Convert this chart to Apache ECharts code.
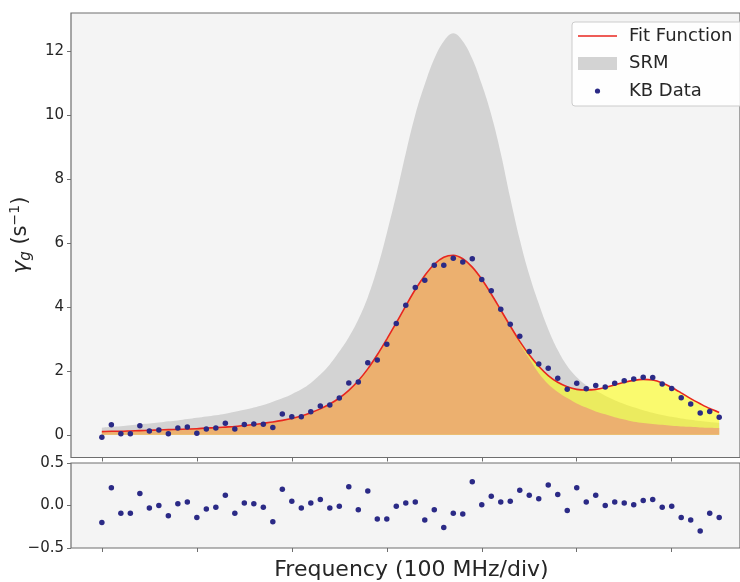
<!DOCTYPE html>
<html>
<head>
<meta charset="utf-8">
<script src="https://cdn.jsdelivr.net/npm/echarts@6/dist/echarts.min.js"></script>
<style>
  html, body { margin: 0; padding: 0; background: #ffffff; }
  #main { width: 740px; height: 582px; }
</style>
</head>
<body>
<div id="main"></div>
<script>
// frequency index (one point per 10 MHz, ticks every 100 MHz)
const freqIdx = [
  0, 1, 2, 3, 4, 5, 6, 7, 8, 9, 10, 11, 12, 13, 14, 15, 16, 17, 18, 19,
  20, 21, 22, 23, 24, 25, 26, 27, 28, 29, 30, 31, 32, 33, 34, 35, 36, 37, 38, 39,
  40, 41, 42, 43, 44, 45, 46, 47, 48, 49, 50, 51, 52, 53, 54, 55, 56, 57, 58, 59,
  60, 61, 62, 63, 64, 65
];

const kbData = [
  -0.08, 0.31, 0.03, 0.03, 0.28, 0.12, 0.15, 0.03, 0.21, 0.24,
  0.05, 0.18, 0.21, 0.36, 0.18, 0.32, 0.34, 0.33, 0.23, 0.65,
  0.56, 0.56, 0.72, 0.90, 0.93, 1.15, 1.62, 1.65, 2.25, 2.34,
  2.83, 3.48, 4.05, 4.60, 4.83, 5.30, 5.30, 5.52, 5.40, 5.50,
  4.85, 4.50, 3.92, 3.45, 3.08, 2.60, 2.21, 2.08, 1.77, 1.42,
  1.61, 1.44, 1.54, 1.49, 1.61, 1.69, 1.74, 1.80, 1.79, 1.59,
  1.45, 1.16, 0.96, 0.68, 0.73, 0.55
];

const residuals = [
  -0.20, 0.21, -0.09, -0.09, 0.14, -0.03, 0.00, -0.12, 0.02, 0.04,
  -0.14, -0.04, -0.02, 0.12, -0.09, 0.03, 0.02, -0.02, -0.19, 0.19,
  0.05, -0.03, 0.03, 0.07, -0.03, -0.01, 0.22, -0.05, 0.17, -0.16,
  -0.16, -0.01, 0.03, 0.04, -0.17, -0.05, -0.26, -0.09, -0.10, 0.28,
  0.01, 0.11, 0.04, 0.05, 0.18, 0.12, 0.08, 0.24, 0.13, -0.06,
  0.21, 0.04, 0.12, 0.00, 0.04, 0.03, 0.01, 0.06, 0.07, -0.02,
  -0.01, -0.14, -0.17, -0.30, -0.09, -0.14
];

const fitCurve = [
  0.10, 0.11, 0.11, 0.12, 0.13, 0.14, 0.15, 0.16, 0.17, 0.18,
  0.19, 0.21, 0.22, 0.24, 0.26, 0.29, 0.32, 0.36, 0.40, 0.45,
  0.51, 0.59, 0.69, 0.81, 0.96, 1.15, 1.39, 1.69, 2.06, 2.50,
  2.99, 3.50, 4.03, 4.54, 4.98, 5.33, 5.55, 5.61, 5.50, 5.24,
  4.86, 4.40, 3.90, 3.40, 2.92, 2.50, 2.14, 1.85, 1.64, 1.50,
  1.42, 1.40, 1.42, 1.48, 1.56, 1.64, 1.70, 1.73, 1.71, 1.62,
  1.48, 1.31, 1.13, 0.97, 0.82, 0.70
];

// main resonance component of the fit (orange)
const mainPeak = [
  0.10, 0.11, 0.11, 0.12, 0.13, 0.14, 0.15, 0.16, 0.17, 0.18,
  0.19, 0.21, 0.22, 0.24, 0.26, 0.29, 0.32, 0.36, 0.40, 0.45,
  0.51, 0.59, 0.69, 0.81, 0.96, 1.15, 1.39, 1.69, 2.06, 2.50,
  2.99, 3.50, 4.03, 4.54, 4.98, 5.33, 5.55, 5.61, 5.50, 5.24,
  4.86, 4.40, 3.90, 3.40, 2.85, 2.38, 1.92, 1.58, 1.34, 1.15,
  0.98, 0.85, 0.73, 0.64, 0.55, 0.48, 0.41, 0.37, 0.34, 0.31,
  0.28, 0.26, 0.25, 0.23, 0.22, 0.21
];

const srmCurve = [
  0.22, 0.25, 0.27, 0.30, 0.33, 0.35, 0.38, 0.42, 0.45, 0.49,
  0.53, 0.57, 0.61, 0.66, 0.72, 0.78, 0.85, 0.93, 1.03, 1.14,
  1.27, 1.42, 1.62, 1.88, 2.20, 2.60, 3.05, 3.60, 4.30, 5.20,
  6.30, 7.50, 8.80, 10.00, 10.95, 11.75, 12.30, 12.55, 12.30, 11.75,
  10.95, 10.00, 8.80, 7.40, 6.10, 5.00, 4.10, 3.30, 2.65, 2.15,
  1.80, 1.55, 1.38, 1.22, 1.08, 0.96, 0.86, 0.77, 0.69, 0.62,
  0.56, 0.51, 0.47, 0.43, 0.40, 0.37
];

const xTicks = [0, 10, 20, 30, 40, 50, 60];
const yTicks = [0, 2, 4, 6, 8, 10, 12];

function pairs(ys) {
  return freqIdx.map((x, i) => [x, ys[i]]);
}

const FONT = "DejaVu Sans";
const TXT = "#262626";
const FRAME = "#6e6e6e";

let myEchart = echarts.init(document.getElementById("main"));
let option = {
  animation: false,
  backgroundColor: "#ffffff",
  textStyle: { fontFamily: FONT },
  // in the original the plot is cut at the right edge of the picture
  grid: [
    { left: 71, right: 0, top: 13, height: 444.5, show: true,
      backgroundColor: "#f4f4f4", borderColor: FRAME, borderWidth: 1.2 },
    { left: 71, right: 0, top: 463, height: 85, show: true,
      backgroundColor: "#f4f4f4", borderColor: FRAME, borderWidth: 1.2 },
  ],
  legend: {
    left: 572,
    top: 22,
    orient: "vertical",
    padding: [5, 20, 6, 6],
    itemWidth: 46,
    itemHeight: 16,
    itemGap: 9.5,
    backgroundColor: "rgba(255,255,255,0.85)",
    borderColor: "#cccccc",
    borderWidth: 1,
    borderRadius: 3,
    textStyle: { fontFamily: FONT, fontSize: 18, color: TXT, lineHeight: 16 },
    itemStyle: { borderWidth: 0 },
    data: [
      { name: "Fit Function", icon: "path://M0,0 M46,16 M0,7.3 L39,7.3 L39,8.7 L0,8.7 Z",
        itemStyle: { color: "#e8261f", borderWidth: 0 } },
      { name: "SRM", icon: "path://M0,0 M46,16 M0,1.5 L39,1.5 L39,14.5 L0,14.5 Z",
        itemStyle: { color: "#d3d3d3", borderWidth: 0 } },
      { name: "KB Data", icon: "path://M0,0 M46,16 M22.1,8 A2.6,2.6,0,1,1,16.9,8 A2.6,2.6,0,1,1,22.1,8 Z",
        itemStyle: { color: "#2b2a86", borderWidth: 0 } },
    ],
  },
  xAxis: [
    {
      type: "value", gridIndex: 0, min: -3.25, max: 67.19,
      axisLine: { show: false, onZero: false },
      axisTick: { show: true, inside: false, length: 4, customValues: xTicks,
        lineStyle: { color: FRAME } },
      axisLabel: { show: false },
      splitLine: { show: false },
    },
    {
      type: "value", gridIndex: 1, min: -3.25, max: 67.19,
      axisLine: { show: false, onZero: false },
      axisTick: { show: true, inside: false, length: 4, customValues: xTicks,
        lineStyle: { color: FRAME } },
      axisLabel: { show: false },
      splitLine: { show: false },
      name: "Frequency (100 MHz/div)",
      nameLocation: "middle",
      nameGap: 11,
      nameTextStyle: { fontFamily: FONT, fontSize: 22, color: TXT, verticalAlign: "top",
        padding: [0, 0, 0, 12] },
    },
  ],
  yAxis: [
    {
      type: "value", gridIndex: 0, min: -0.71, max: 13.18,
      axisLine: { show: false, onZero: false },
      axisTick: { show: true, length: 4, customValues: yTicks, lineStyle: { color: FRAME } },
      axisLabel: { customValues: yTicks, fontFamily: FONT, fontSize: 15, color: TXT, margin: 7 },
      splitLine: { show: false },
      name: "{i|γ}{sub|g} (s{sup|−1})",
      nameLocation: "middle",
      nameRotate: 90,
      nameGap: 34,
      nameTextStyle: {
        fontFamily: FONT, fontSize: 21, color: TXT, lineHeight: 26,
        rich: {
          i: { fontFamily: FONT, fontSize: 22, fontStyle: "italic", color: TXT, lineHeight: 26 },
          sub: { fontFamily: FONT, fontSize: 15, fontStyle: "italic", color: TXT, verticalAlign: "bottom", lineHeight: 26 },
          sup: { fontFamily: FONT, fontSize: 14, color: TXT, verticalAlign: "top", lineHeight: 26 },
        },
      },
    },
    {
      type: "value", gridIndex: 1, min: -0.5, max: 0.5, interval: 0.5,
      axisLine: { show: false, onZero: false },
      axisTick: { show: true, length: 4, lineStyle: { color: FRAME } },
      axisLabel: {
        fontFamily: FONT, fontSize: 15, color: TXT, margin: 7,
        formatter: (v) => (v < 0 ? "\u2212" : "") + Math.abs(v).toFixed(1),
      },
      splitLine: { show: false },
    },
  ],
  series: [
    {
      name: "SRM", type: "line", xAxisIndex: 0, yAxisIndex: 0, z: 1,
      data: pairs(srmCurve), smooth: 0.4, showSymbol: false,
      lineStyle: { width: 0 }, itemStyle: { color: "#d3d3d3" },
      areaStyle: { color: "#d3d3d3", opacity: 1 },
    },
    {
      name: "Second Peak", type: "line", xAxisIndex: 0, yAxisIndex: 0, z: 2,
      data: pairs(fitCurve), smooth: 0.3, showSymbol: false,
      lineStyle: { width: 0 }, itemStyle: { color: "#ffff00" },
      areaStyle: { color: "rgba(255,255,0,0.55)", opacity: 1 },
    },
    {
      name: "Main Peak", type: "line", xAxisIndex: 0, yAxisIndex: 0, z: 3,
      data: pairs(mainPeak), smooth: 0.3, showSymbol: false,
      lineStyle: { width: 0 }, itemStyle: { color: "#ecb06f" },
      areaStyle: { color: "#ecb06f", opacity: 1 },
    },
    {
      name: "Fit Function", type: "line", xAxisIndex: 0, yAxisIndex: 0, z: 4,
      data: pairs(fitCurve), smooth: 0.3, showSymbol: false,
      lineStyle: { width: 1.6, color: "#e8261f" }, itemStyle: { color: "#e8261f" },
    },
    {
      name: "KB Data", type: "scatter", xAxisIndex: 0, yAxisIndex: 0, z: 5,
      data: pairs(kbData), symbolSize: 5.5,
      itemStyle: { color: "#2b2a86", opacity: 1 },
    },
    {
      name: "Residuals", type: "scatter", xAxisIndex: 1, yAxisIndex: 1, z: 5,
      data: pairs(residuals), symbolSize: 5.5,
      itemStyle: { color: "#2b2a86", opacity: 1 },
    },
  ],
};
myEchart.setOption(option, true);
</script>
</body>
</html>
